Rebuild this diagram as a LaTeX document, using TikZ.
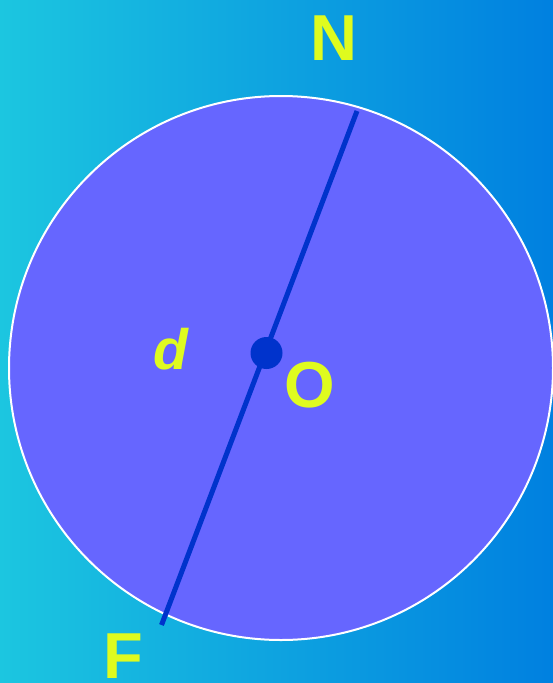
\documentclass[tikz,border=0pt]{standalone}
\usepackage{fontspec}
\setmainfont{Liberation Sans}
\definecolor{SkyLeft}{HTML}{1CC6E0}
\definecolor{SkyRight}{HTML}{0080E0}
\definecolor{DiscBlue}{HTML}{6666FF}
\definecolor{ChordBlue}{HTML}{0033CC}
\definecolor{LabelYellow}{HTML}{DFFB1F}

\begin{document}
\begin{tikzpicture}[x=1pt, y=-1pt,
    letter/.style={text=LabelYellow, inner sep=0pt, anchor=base,
        font=\bfseries\fontsize{65}{65}\selectfont}]
    % Background, fixes the page size
    \shade[left color=SkyLeft, right color=SkyRight] (0,0) rectangle (553,683);
    \useasboundingbox (0,0) rectangle (553,683);

    % Coordinates
    \coordinate (C) at (281,368);
    \coordinate (N') at (357,111);
    \coordinate (F') at (161.5,625);

    % Disc
    \fill[DiscBlue] (C) circle (272);
    \draw[white, line width=2pt] (C) circle (272);

    % Diameter through the centre
    \draw[ChordBlue, line width=5pt] (N') -- (F');
    \fill[ChordBlue] (266.5,353) circle (16) coordinate (O');

    % Labels
    \node[letter] (N) at (333.5,60) {N};
    \node[letter] (F) at (123.5,678) {F};
    \node[letter] (O) at (310,407) {O};
    \node[letter, font=\bfseries\itshape\fontsize{57}{57}\selectfont] (d) at (171,369) {d};
\end{tikzpicture}
\end{document}
